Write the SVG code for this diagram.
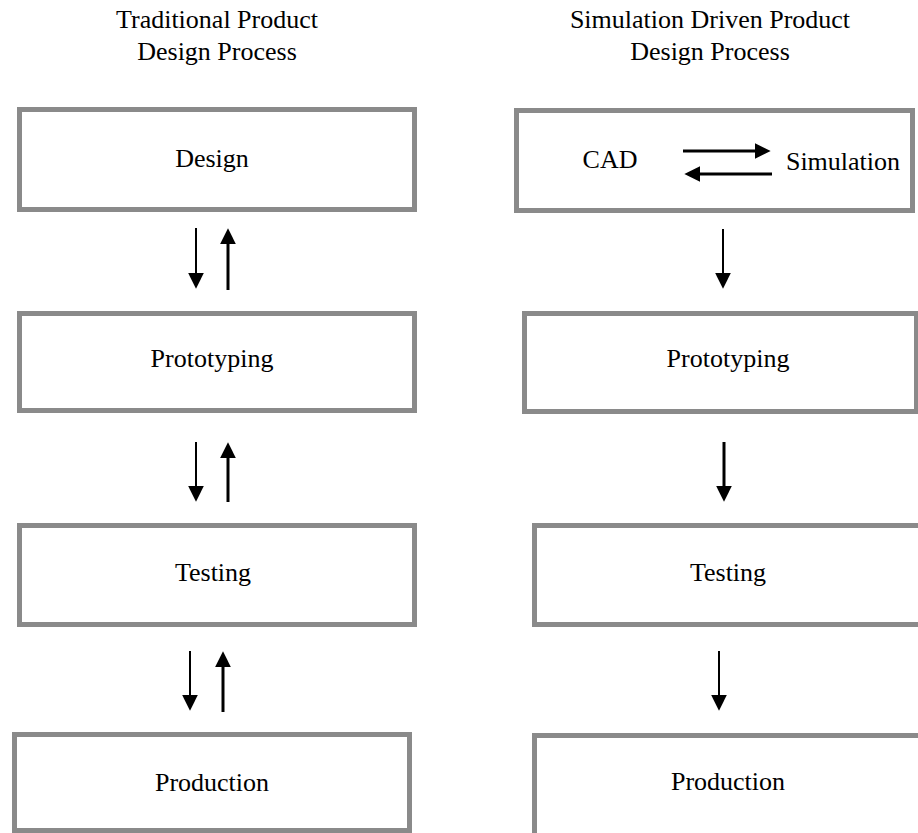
<svg xmlns="http://www.w3.org/2000/svg" width="918" height="833" viewBox="0 0 918 833">
<style>
.box{fill:#fff;stroke:#8a8a8a;stroke-width:5}
.lbl{font-family:"Liberation Serif","Times New Roman",serif;font-size:26px;fill:#000;text-anchor:middle}
.ttl{font-family:"Liberation Serif","Times New Roman",serif;font-size:26px;fill:#000;text-anchor:middle}
.thin{stroke:#000;stroke-width:2;fill:none;marker-end:url(#ah)}
.thick{stroke:#000;stroke-width:3;fill:none;marker-end:url(#ah)}
</style>
<defs>
<marker id="ah" markerUnits="userSpaceOnUse" markerWidth="16" markerHeight="16" refX="5" refY="7.5" orient="auto" viewBox="0 0 15 15">
<path d="M0,0 L15,7.5 L0,15 z" fill="#000"/>
</marker>
</defs>
<rect width="918" height="833" fill="#fff"/>
<g id="titles">
<text class="ttl" x="217" y="28">Traditional Product</text>
<text class="ttl" x="217" y="60">Design Process</text>
<text class="ttl" x="710" y="28">Simulation Driven Product</text>
<text class="ttl" x="710" y="60">Design Process</text>
</g>
<g id="t-design"><rect class="box" x="19.5" y="109.5" width="395" height="100"/><text class="lbl" x="212" y="167">Design</text></g>
<g id="t-proto"><rect class="box" x="19.5" y="313.5" width="395" height="97"/><text class="lbl" x="212" y="367">Prototyping</text></g>
<g id="t-test"><rect class="box" x="19.5" y="525.5" width="395" height="99"/><text class="lbl" x="213" y="581">Testing</text></g>
<g id="t-prod"><rect class="box" x="14.5" y="734.5" width="395" height="96"/><text class="lbl" x="212" y="791">Production</text></g>
<g id="s-design"><rect class="box" x="516.5" y="110.5" width="396" height="100"/><text class="lbl" x="610" y="168">CAD</text><text class="lbl" x="843" y="170">Simulation</text></g>
<g id="s-proto"><rect class="box" x="524.5" y="313.5" width="392" height="98"/><text class="lbl" x="728" y="367">Prototyping</text></g>
<g id="s-test"><rect class="box" x="534.5" y="525.5" width="400" height="99"/><text class="lbl" x="728" y="581">Testing</text></g>
<g id="s-prod"><rect class="box" x="534.5" y="735.5" width="400" height="100"/><text class="lbl" x="728" y="790">Production</text></g>
<g id="connectors">
<line class="thin" x1="196" y1="228" x2="196" y2="278"/>
<line class="thick" x1="228" y1="290" x2="228" y2="239"/>
<line class="thin" x1="196" y1="442" x2="196" y2="491"/>
<line class="thick" x1="228" y1="502" x2="228" y2="453"/>
<line class="thin" x1="190" y1="651" x2="190" y2="700"/>
<line class="thick" x1="223" y1="712" x2="223" y2="662"/>
<line class="thin" x1="723" y1="229" x2="723" y2="278"/>
<line class="thick" x1="724" y1="442" x2="724" y2="491"/>
<line class="thin" x1="719" y1="651" x2="719" y2="700"/>
<line class="thick" x1="683" y1="151" x2="760" y2="151"/>
<line class="thick" x1="772" y1="174" x2="695" y2="174"/>
</g>
</svg>
